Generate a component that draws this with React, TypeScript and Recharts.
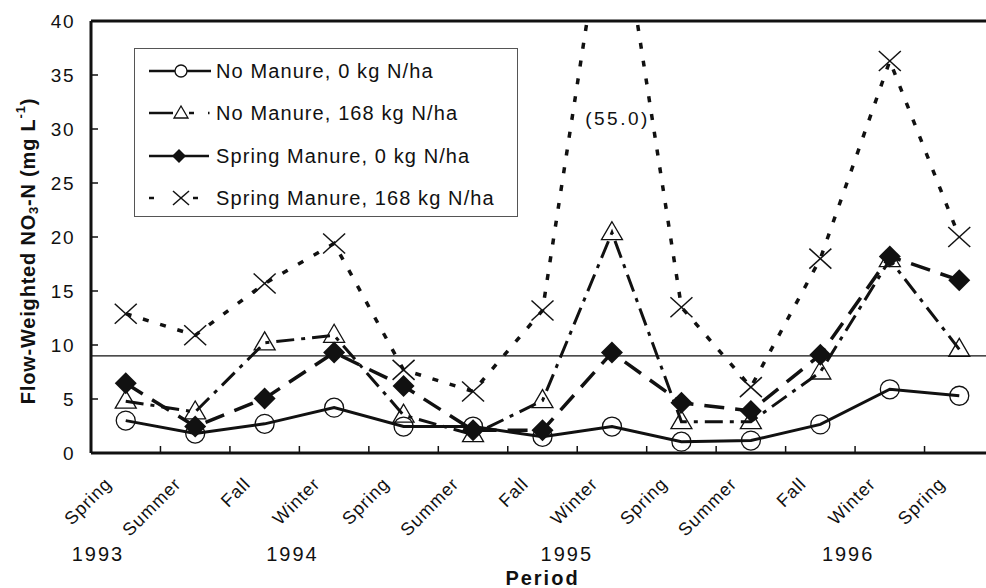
import React from 'react'
import { LineChart, Line, XAxis, YAxis, ReferenceLine, ReferenceDot, Legend } from 'recharts'

// categories and series values (mg/L)
const seasons = ['Spring', 'Summer', 'Fall', 'Winter', 'Spring', 'Summer', 'Fall', 'Winter', 'Spring', 'Summer', 'Fall', 'Winter', 'Spring']
const noManure0 = [3.0, 1.8, 2.7, 4.2, 2.45, 2.45, 1.5, 2.45, 1.05, 1.15, 2.65, 5.9, 5.3]
const noManure168 = [4.8, 3.8, 10.2, 10.9, 3.5, 1.7, 4.85, 20.4, 2.9, 2.9, 7.5, 17.9, 9.6]
const springManure0 = [6.45, 2.45, 5.05, 9.3, 6.2, 2.1, 2.1, 9.3, 4.65, 3.9, 9.1, 18.2, 16.0]
const springManure168 = [12.9, 10.9, 15.7, 19.4, 7.7, 5.7, 13.2, 55.0, 13.5, 6.1, 18.0, 36.3, 20.0]
const yTicks = [0, 5, 10, 15, 20, 25, 30, 35, 40]
const years = [
  { label: '1993', at: -0.4 },
  { label: '1994', at: 2.4 },
  { label: '1995', at: 6.35 },
  { label: '1996', at: 10.4 },
]
const offScaleNote = { label: '(55.0)', at: 7.08, value: 31 }
const thresholdLine = 9

const data = seasons.map((s, i) => ({
  idx: i,
  season: s,
  noManure0: noManure0[i],
  noManure168: noManure168[i],
  springManure0: springManure0[i],
  springManure168: springManure168[i],
}))

const FONT = 'Arial, "Liberation Sans", sans-serif'
const INK = '#111'
const CHART_W = 1000
const CHART_H = 588
const MARGIN = { top: 21, right: 6, left: 0, bottom: 0 }
const Y_AXIS_W = 91
const X_AXIS_H = 135
const PLOT_LEFT = MARGIN.left + Y_AXIS_W
const PLOT_BOTTOM = CHART_H - MARGIN.bottom - X_AXIS_H
const BAND = (CHART_W - MARGIN.right - PLOT_LEFT) / seasons.length

const CircleDot = (p: any) =>
  p.cx == null ? <g key={p.index} /> : (
    <circle key={p.index} cx={p.cx} cy={p.cy} r={9.5} fill="none" stroke={INK} strokeWidth={1.3} />
  )

const TriangleDot = (p: any) =>
  p.cx == null ? <g key={p.index} /> : (
    <polygon
      key={p.index}
      points={`${p.cx},${p.cy - 11} ${p.cx - 10.5},${p.cy + 7} ${p.cx + 10.5},${p.cy + 7}`}
      fill="none"
      stroke={INK}
      strokeWidth={1.3}
    />
  )

const DiamondDot = (p: any) =>
  p.cx == null ? <g key={p.index} /> : (
    <polygon
      key={p.index}
      points={`${p.cx},${p.cy - 11} ${p.cx + 11},${p.cy} ${p.cx},${p.cy + 11} ${p.cx - 11},${p.cy}`}
      fill={INK}
    />
  )

const CrossDot = (p: any) =>
  p.cx == null ? <g key={p.index} /> : (
    <g key={p.index} stroke={INK} strokeWidth={1.5}>
      <line x1={p.cx - 11} y1={p.cy - 10} x2={p.cx + 11} y2={p.cy + 10} />
      <line x1={p.cx - 11} y1={p.cy + 10} x2={p.cx + 11} y2={p.cy - 10} />
    </g>
  )

const SeasonTick = (props: any) => {
  const { x, payload } = props
  const i = payload.value
  const tx = x - 13
  const ty = 485
  return (
    <g>
      <line x1={x - BAND / 2} x2={x - BAND / 2} y1={PLOT_BOTTOM} y2={PLOT_BOTTOM - 7} stroke={INK} strokeWidth={1.5} />
      {i === seasons.length - 1 && (
        <line x1={x + BAND / 2} x2={x + BAND / 2} y1={PLOT_BOTTOM} y2={PLOT_BOTTOM - 7} stroke={INK} strokeWidth={1.5} />
      )}
      <text
        x={tx}
        y={ty}
        textAnchor="end"
        transform={`rotate(-45 ${tx} ${ty})`}
        fontFamily={FONT}
        fontSize={18}
        letterSpacing={1}
        fill={INK}
      >
        {seasons[i]}
      </text>
    </g>
  )
}

const ValueTick = (props: any) => {
  const { y, payload } = props
  return (
    <g>
      <line x1={PLOT_LEFT} x2={PLOT_LEFT + 7} y1={y} y2={y} stroke={INK} strokeWidth={1.5} />
      <text
        x={PLOT_LEFT - 16}
        y={y}
        textAnchor="end"
        dominantBaseline="central"
        fontFamily={FONT}
        fontSize={19}
        letterSpacing={1.5}
        fill={INK}
      >
        {payload.value}
      </text>
    </g>
  )
}

const YTitle = () => (
  <text
    x={28}
    y={251}
    transform="rotate(-90 28 251)"
    textAnchor="middle"
    dominantBaseline="central"
    fontFamily={FONT}
    fontWeight="bold"
    fontSize={20}
    letterSpacing={0.8}
    fill={INK}
  >
    Flow-Weighted NO
    <tspan dy={5} fontSize={13}>3</tspan>
    <tspan dy={-5}>-N (mg L</tspan>
    <tspan dy={-8} fontSize={13}>-1</tspan>
    <tspan dy={8}>)</tspan>
  </text>
)

const legendRows = [
  { label: 'No Manure, 0 kg N/ha', kind: 'circle' },
  { label: 'No Manure, 168 kg N/ha', kind: 'triangle' },
  { label: 'Spring Manure, 0 kg N/ha', kind: 'diamond' },
  { label: 'Spring Manure, 168 kg N/ha', kind: 'cross' },
]

const LegendSymbol = ({ kind }: { kind: string }) => {
  const y = 12
  return (
    <svg width={70} height={24} style={{ display: 'block' }}>
      <g stroke={INK} strokeWidth={2.5}>
        {kind === 'circle' && (
          <>
            <line x1={2} x2={64} y1={y} y2={y} />
            <circle cx={34} cy={y} r={6} fill="#fff" strokeWidth={1.3} />
          </>
        )}
        {kind === 'triangle' && (
          <>
            <line x1={2} x2={26} y1={y} y2={y} />
            <line x1={42} x2={47} y1={y} y2={y} />
            <line x1={61} x2={62.5} y1={y} y2={y} />
            <polygon points={`34,${y - 7} 27,${y + 5} 41,${y + 5}`} fill="#fff" strokeWidth={1.3} />
          </>
        )}
        {kind === 'diamond' && (
          <>
            <line x1={2} x2={62} y1={y} y2={y} />
            <polygon points={`32,${y - 7} 39,${y} 32,${y + 7} 25,${y}`} fill={INK} strokeWidth={0} />
          </>
        )}
        {kind === 'cross' && (
          <>
            <line x1={2} x2={7} y1={y} y2={y} />
            <line x1={46} x2={51} y1={y} y2={y} />
            <g strokeWidth={1.5}>
              <line x1={26} y1={y - 7} x2={42} y2={y + 7} />
              <line x1={26} y1={y + 7} x2={42} y2={y - 7} />
            </g>
          </>
        )}
      </g>
    </svg>
  )
}

const LegendBox = () => (
  <div
    style={{
      position: 'relative',
      width: 384,
      height: 169,
      boxSizing: 'border-box',
      border: '1px solid #555',
      background: '#fff',
      fontFamily: FONT,
      fontSize: 20,
      letterSpacing: 1.1,
      color: INK,
    }}
  >
    {legendRows.map((r, i) => (
      <div key={r.label} style={{ position: 'absolute', left: 12, top: 22 + i * 42.4 - 12, height: 24, display: 'flex', alignItems: 'center' }}>
        <LegendSymbol kind={r.kind} />
        <span style={{ marginLeft: -1, whiteSpace: 'nowrap', lineHeight: '24px' }}>{r.label}</span>
      </div>
    ))}
  </div>
)

export default function App() {
  return (
    <div style={{ position: 'absolute', left: 0, top: 0, width: 986, height: 588, overflow: 'hidden', background: '#fff' }}>
      <LineChart width={CHART_W} height={CHART_H} data={data} margin={MARGIN}>
        <XAxis
          dataKey="idx"
          type="number"
          domain={[-0.5, seasons.length - 0.5]}
          ticks={data.map((d) => d.idx)}
          interval={0}
          height={X_AXIS_H}
          tickLine={false}
          axisLine={{ stroke: INK, strokeWidth: 3 }}
          tick={<SeasonTick />}
          label={{ value: 'Period', position: 'insideBottom', offset: 3, fontFamily: FONT, fontWeight: 'bold', fontSize: 20, letterSpacing: 2, fill: INK }}
        />
        <YAxis
          type="number"
          domain={[0, 40]}
          ticks={yTicks}
          allowDataOverflow
          width={Y_AXIS_W}
          tickLine={false}
          axisLine={{ stroke: INK, strokeWidth: 3 }}
          tick={<ValueTick />}
          label={<YTitle />}
        />
        <ReferenceLine y={40} stroke={INK} strokeWidth={3} />
        <ReferenceLine y={thresholdLine} stroke={INK} strokeWidth={1.2} />
        <Legend
          layout="horizontal"
          verticalAlign="middle"
          align="center"
          wrapperStyle={{ left: 134, top: 48, width: 384, height: 169 }}
          content={() => <LegendBox />}
        />
        <Line
          dataKey="noManure0"
          type="linear"
          stroke={INK}
          strokeWidth={3}
          dot={CircleDot}
          activeDot={false}
          isAnimationActive={false}
        />
        <Line
          dataKey="noManure168"
          type="linear"
          stroke={INK}
          strokeWidth={3}
          strokeDasharray="18 7 4 7"
          dot={TriangleDot}
          activeDot={false}
          isAnimationActive={false}
        />
        <Line
          dataKey="springManure0"
          type="linear"
          stroke={INK}
          strokeWidth={3.5}
          strokeDasharray="20 11"
          dot={DiamondDot}
          activeDot={false}
          isAnimationActive={false}
        />
        <Line
          dataKey="springManure168"
          type="linear"
          stroke={INK}
          strokeWidth={3.5}
          strokeDasharray="6 12"
          dot={CrossDot}
          activeDot={false}
          isAnimationActive={false}
        />
        <ReferenceDot
          x={offScaleNote.at}
          y={offScaleNote.value}
          r={0}
          fill="none"
          stroke="none"
          label={{ value: offScaleNote.label, position: 'center', fontFamily: FONT, fontSize: 19, letterSpacing: 2.5, fill: INK }}
        />
        {years.map((yr) => (
          <ReferenceDot
            key={yr.label}
            x={yr.at}
            y={0}
            r={0}
            fill="none"
            stroke="none"
            ifOverflow="visible"
            label={{ value: yr.label, position: 'bottom', offset: 94, fontFamily: FONT, fontSize: 20, letterSpacing: 2, fill: INK }}
          />
        ))}
      </LineChart>
    </div>
  )
}
